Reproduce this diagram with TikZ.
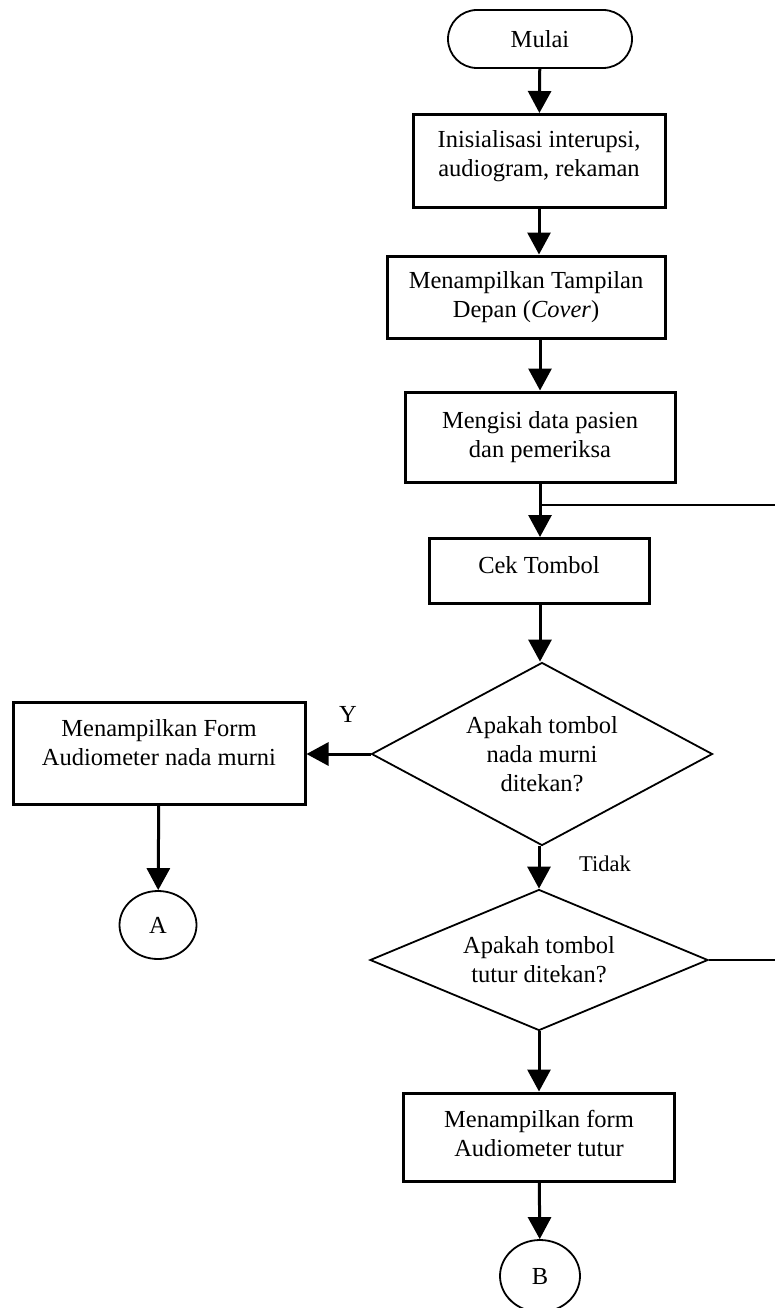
\documentclass[tikz,border=0pt]{standalone}
\usepackage{fontspec}
\setmainfont{Liberation Serif}
\usetikzlibrary{shapes.geometric,arrows.meta}
\begin{document}
\begin{tikzpicture}[x=1pt,y=-1pt,
  font=\fontsize{24.5}{29}\selectfont,
  procbox/.style={draw,line width=3pt,rectangle,align=center,inner sep=0pt},
  decbox/.style={draw,line width=1.8pt,diamond,align=center,inner sep=0pt,shape aspect=1.86},
  termbox/.style={draw,line width=1.8pt,rectangle,rounded corners=29pt,align=center,inner sep=0pt},
  conn/.style={draw,ellipse,line width=1.8pt,inner sep=0pt},
  flow/.style={line width=3pt,-{Triangle[width=23pt,length=22pt]}},
  plain/.style={line width=2.4pt}
]
\useasboundingbox (0,0) rectangle (775,1308);

\node[termbox,minimum width=184pt,minimum height=58pt] (start) at (540,39) {Mulai};
\node[procbox,minimum width=252pt,minimum height=93pt] (init) at (539,161) {Inisialisasi interupsi,\\audiogram, rekaman\\[-14pt]\mbox{}};
\node[procbox,minimum width=278pt,minimum height=82pt] (cover) at (526,297) {Menampilkan Tampilan\\Depan (\textit{Cover})};
\node[procbox,minimum width=270pt,minimum height=90pt] (data) at (540,437) {Mengisi data pasien\\dan pemeriksa};
\node[procbox,minimum width=220pt,minimum height=65pt] (cek) at (539,571) {Cek Tombol\\[-17pt]\mbox{}};
\node[decbox,minimum width=341pt,minimum height=183pt] (d1) at (542,754) {Apakah tombol\\nada murni\\ditekan?};
\node[procbox,minimum width=292pt,minimum height=102pt] (pure) at (159,753) {Menampilkan Form\\Audiometer nada murni\\[-7pt]\mbox{}};
\node[conn,minimum width=77pt,minimum height=68pt] (ca) at (158,925) {A};
\node[decbox,minimum width=338pt,minimum height=141pt] (d2) at (539,960) {Apakah tombol\\tutur ditekan?};
\node[procbox,minimum width=271pt,minimum height=88pt] (speech) at (539,1137) {Menampilkan form\\Audiometer tutur\\[-21pt]\mbox{}};
\node[conn,minimum width=80pt,minimum height=72pt] (cb) at (540,1276) {B};

\node (ylab) at (348,714) {Y};
\node[font=\fontsize{22.5}{27}\selectfont] (tlab) at (605,864) {Tidak};

\coordinate (jn) at (540,505);
\coordinate (rt1) at (775,505);
\coordinate (rt2) at (775,960);

\draw[flow] (start) -- (init);
\draw[flow] (init.south) -- (init.south |- cover.north);
\draw[flow] (cover.south -| start) -- (data);
\draw[flow] (data) -- (cek.north -| data);
\draw[plain] (rt1) -- (jn);
\draw[flow] (cek.south -| data) -- (d1.north -| data);
\draw[flow] (d1.west) -- (pure.east |- d1.west);
\draw[flow] (pure) -- (ca);
\draw[flow] (d1.south -| d2) -- (d2.north);
\draw[plain] (d2.east) -- (rt2);
\draw[flow] (d2) -- (speech);
\draw[flow] (speech) -- (cb);
\end{tikzpicture}
\end{document}
